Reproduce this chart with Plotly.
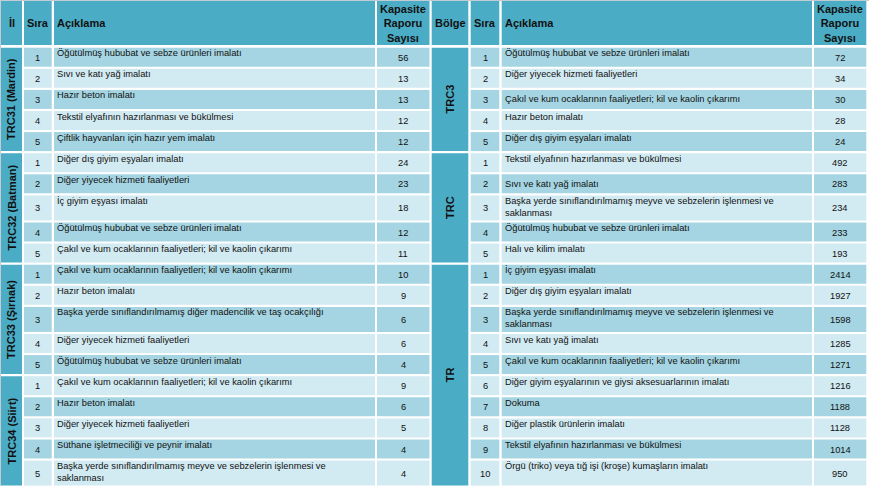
import plotly.graph_objects as go

# ---------------- data ----------------
left_groups = ["TRC31 (Mardin)", "TRC32 (Batman)", "TRC33 (Şırnak)", "TRC34 (Siirt)"]
left_group_sizes = [5, 5, 5, 5]
left_rank = [1, 2, 3, 4, 5, 1, 2, 3, 4, 5, 1, 2, 3, 4, 5, 1, 2, 3, 4, 5]
left_desc = [
    "Öğütülmüş hububat ve sebze ürünleri imalatı",
    "Sıvı ve katı yağ imalatı",
    "Hazır beton imalatı",
    "Tekstil elyafının hazırlanması ve bükülmesi",
    "Çiftlik hayvanları için hazır yem imalatı",
    "Diğer dış giyim eşyaları imalatı",
    "Diğer yiyecek hizmeti faaliyetleri",
    "İç giyim eşyası imalatı",
    "Öğütülmüş hububat ve sebze ürünleri imalatı",
    "Çakıl ve kum ocaklarının faaliyetleri; kil ve kaolin çıkarımı",
    "Çakıl ve kum ocaklarının faaliyetleri; kil ve kaolin çıkarımı",
    "Hazır beton imalatı",
    "Başka yerde sınıflandırılmamış diğer madencilik ve taş ocakçılığı",
    "Diğer yiyecek hizmeti faaliyetleri",
    "Öğütülmüş hububat ve sebze ürünleri imalatı",
    "Çakıl ve kum ocaklarının faaliyetleri; kil ve kaolin çıkarımı",
    "Hazır beton imalatı",
    "Diğer yiyecek hizmeti faaliyetleri",
    "Süthane işletmeciliği ve peynir imalatı",
    "Başka yerde sınıflandırılmamış meyve ve sebzelerin işlenmesi ve<br>saklanması",
]
left_vals = [56, 13, 13, 12, 12, 24, 23, 18, 12, 11, 10, 9, 6, 6, 4, 9, 6, 5, 4, 4]

right_groups = ["TRC3", "TRC", "TR"]
right_group_sizes = [5, 5, 10]
right_rank = [1, 2, 3, 4, 5, 1, 2, 3, 4, 5, 1, 2, 3, 4, 5, 6, 7, 8, 9, 10]
right_desc = [
    "Öğütülmüş hububat ve sebze ürünleri imalatı",
    "Diğer yiyecek hizmeti faaliyetleri",
    "Çakıl ve kum ocaklarının faaliyetleri; kil ve kaolin çıkarımı",
    "Hazır beton imalatı",
    "Diğer dış giyim eşyaları imalatı",
    "Tekstil elyafının hazırlanması ve bükülmesi",
    "Sıvı ve katı yağ imalatı",
    "Başka yerde sınıflandırılmamış meyve ve sebzelerin işlenmesi ve<br>saklanması",
    "Öğütülmüş hububat ve sebze ürünleri imalatı",
    "Halı ve kilim imalatı",
    "İç giyim eşyası imalatı",
    "Diğer dış giyim eşyaları imalatı",
    "Başka yerde sınıflandırılmamış meyve ve sebzelerin işlenmesi ve<br>saklanması",
    "Sıvı ve katı yağ imalatı",
    "Çakıl ve kum ocaklarının faaliyetleri; kil ve kaolin çıkarımı",
    "Diğer giyim eşyalarının ve giysi aksesuarlarının imalatı",
    "Dokuma",
    "Diğer plastik ürünlerin imalatı",
    "Tekstil elyafının hazırlanması ve bükülmesi",
    "Örgü (triko) veya tığ işi (kroşe) kumaşların imalatı",
]
right_vals = [72, 34, 30, 28, 24, 492, 283, 234, 233, 193,
              2414, 1927, 1598, 1285, 1271, 1216, 1188, 1128, 1014, 950]

left_headers = ["İl", "Sıra", "Açıklama", "Kapasite<br>Raporu<br>Sayısı"]
right_headers = ["Bölge", "Sıra", "Açıklama", "Kapasite<br>Raporu<br>Sayısı"]

# ---------------- layout / style ----------------
W, H = 869, 486
HEADER_COLOR = "#4BACC6"
DARK = "#A5D5E2"
LIGHT = "#D2EAF1"
TEXT = "#111111"
FONT = "Arial, Liberation Sans, sans-serif"
BODY_SIZE = 9.3

HEADER_TOP, HEADER_BOTTOM = 1, 45
FIRST_ROW = 47.7
GAP = 2.1
TALL_ROWS = {7, 12, 19}
row_h = [25 if i in TALL_ROWS else 19 for i in range(20)]
row_top = []
y = FIRST_ROW
for h in row_h:
    row_top.append(y)
    y += h + GAP

left_cols = [(1, 22), (24, 51.7), (54, 375), (377, 429.5)]
right_cols = [(431.7, 468.3), (470.7, 499.3), (501.7, 812), (814, 866.3)]
right_mid_rows = {2, 6}

shapes = []
annotations = []


def rect(x0, x1, y0, y1, color):
    shapes.append(dict(type="rect", xref="x", yref="y", x0=x0, x1=x1, y0=y0, y1=y1,
                       fillcolor=color, line=dict(width=0), layer="below"))


def text(x, y, s, size, xanchor="center", yanchor="middle", bold=False, angle=0, align="center"):
    annotations.append(dict(x=x, y=y, xref="x", yref="y", text=(f"<b>{s}</b>" if bold else s),
                            showarrow=False, xanchor=xanchor, yanchor=yanchor, textangle=angle,
                            align=align, borderpad=0,
                            font=dict(family=FONT, size=size, color=TEXT)))


def build(cols, headers, groups, sizes, ranks, descs, vals, mid_rows):
    # header
    for i, (x0, x1) in enumerate(cols):
        rect(x0, x1, HEADER_TOP, HEADER_BOTTOM, HEADER_COLOR)
        if i == 2:
            text(x0 + 2, (HEADER_TOP + HEADER_BOTTOM) / 2, headers[i], 11, xanchor="left", bold=True)
        else:
            text((x0 + x1) / 2, (HEADER_TOP + HEADER_BOTTOM) / 2, headers[i], 11, bold=True)
    # group column
    start = 0
    for g, n in zip(groups, sizes):
        y0 = row_top[start]
        y1 = row_top[start + n - 1] + row_h[start + n - 1]
        rect(cols[0][0], cols[0][1], y0, y1, HEADER_COLOR)
        text((cols[0][0] + cols[0][1]) / 2, (y0 + y1) / 2, g, 11, bold=True, angle=-90)
        start += n
    # body rows
    for r in range(len(descs)):
        color = DARK if r % 2 == 0 else LIGHT
        t = row_top[r]
        b = t + row_h[r]
        c = (t + b) / 2
        for j in (1, 2, 3):
            rect(cols[j][0], cols[j][1], t, b, color)
        text((cols[1][0] + cols[1][1]) / 2, c + 0.5, str(ranks[r]), BODY_SIZE)
        if r in mid_rows:
            text(cols[2][0] + 2, c, descs[r], BODY_SIZE, xanchor="left", align="left")
        else:
            text(cols[2][0] + 2, t - 0.5, descs[r], BODY_SIZE, xanchor="left", yanchor="top", align="left")
        text((cols[3][0] + cols[3][1]) / 2, c + 0.5, str(vals[r]), BODY_SIZE)


build(left_cols, left_headers, left_groups, left_group_sizes, left_rank, left_desc, left_vals, set())
build(right_cols, right_headers, right_groups, right_group_sizes, right_rank, right_desc, right_vals, right_mid_rows)

# thin outer border (top and left)
shapes.append(dict(type="line", xref="x", yref="y", x0=0, x1=W, y0=0.5, y1=0.5,
                   line=dict(color="#C3CBD3", width=1)))
shapes.append(dict(type="line", xref="x", yref="y", x0=0.5, x1=0.5, y0=0, y1=H,
                   line=dict(color="#C3CBD3", width=1)))

fig = go.Figure(go.Scatter(x=[], y=[], hoverinfo="skip", showlegend=False))
fig.update_layout(
    width=W, height=H,
    margin=dict(l=0, r=0, t=0, b=0),
    paper_bgcolor="white", plot_bgcolor="white",
    xaxis=dict(range=[0, W], visible=False, fixedrange=True),
    yaxis=dict(range=[H, 0], visible=False, fixedrange=True),
    shapes=shapes,
    annotations=annotations,
    showlegend=False,
)
fig.write_html(
    "out.html",
    config={"displayModeBar": False},
    post_script="document.body.style.margin='0';document.body.style.overflow='hidden';",
)
